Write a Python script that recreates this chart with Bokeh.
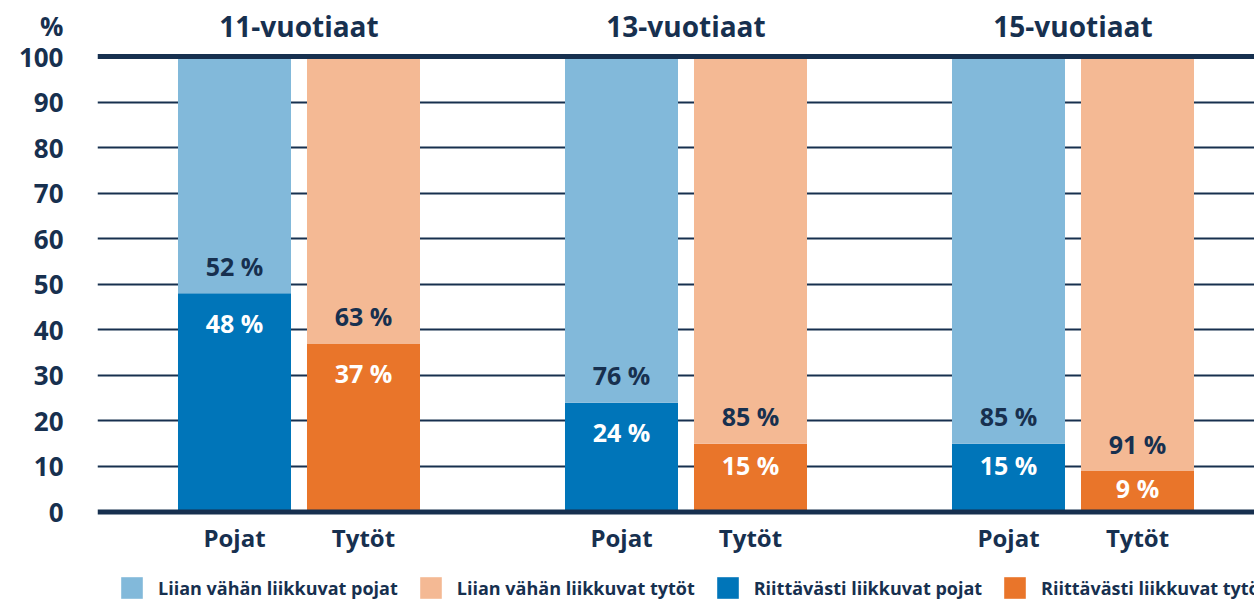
from bokeh.plotting import figure
from bokeh.models import (ColumnDataSource, Range1d, FixedTicker, LinearAxis, Legend,
                          LegendItem, Span, Grid)
from bokeh.core.properties import value
from bokeh.embed import file_html
from bokeh.resources import INLINE

# ---- data ----
groups = ["11-vuotiaat", "13-vuotiaat", "15-vuotiaat"]
sexes = ["Pojat", "Tytöt"]
riittavasti_pojat = [48, 24, 15]
riittavasti_tytot = [37, 15, 9]
liian_vahan_pojat = [52, 76, 85]
liian_vahan_tytot = [63, 85, 91]
series_names = ["Liian vähän liikkuvat pojat", "Liian vähän liikkuvat tytöt",
                "Riittävästi liikkuvat pojat", "Riittävästi liikkuvat tytöt"]
y_ticks = [0, 10, 20, 30, 40, 50, 60, 70, 80, 90, 100]
unit_label = "%"

# ---- style / layout ----
NAVY = "#17304f"
LIGHT_BLUE = "#82b9da"
PEACH = "#f4b994"
BLUE = "#0075b9"
ORANGE = "#e9752a"
FONT = "Open Sans"
GROUP_STEP = 3
BAR_W = 0.876
PX = 4.555                 # px per % unit
Y_TOP = 100 + 56 / PX      # headroom above 100 for the title row
Y_BOT = -(602 - 511.5) / PX
TITLE_Y = 100 + 31 / PX
SEX_Y = -25.5 / PX

W, H = 1254, 602
p = figure(width=W, height=H, output_backend="svg", toolbar_location=None,
           x_range=Range1d(-1.062, -1.062 + 1157 / 129), y_range=Range1d(Y_BOT, Y_TOP),
           min_border_left=97, min_border_right=0, min_border_top=0, min_border_bottom=0,
           x_axis_type=None, y_axis_type=None)
p.outline_line_color = None
p.background_fill_color = "white"
p.border_fill_color = "white"

xs_pojat = [g * GROUP_STEP + 0 for g in range(len(groups))]
xs_tytot = [g * GROUP_STEP + 1 for g in range(len(groups))]

src_p = ColumnDataSource(dict(x=xs_pojat, riitt=riittavasti_pojat, liian=liian_vahan_pojat))
src_t = ColumnDataSource(dict(x=xs_tytot, riitt=riittavasti_tytot, liian=liian_vahan_tytot))

rp = p.vbar_stack(["riitt", "liian"], x="x", width=BAR_W, source=src_p,
                  color=[BLUE, LIGHT_BLUE], line_color=None)
rt = p.vbar_stack(["riitt", "liian"], x="x", width=BAR_W, source=src_t,
                  color=[ORANGE, PEACH], line_color=None)

# grid (10..90) and heavy lines at 0 and 100
p.add_layout(Grid(dimension=1, ticker=FixedTicker(ticks=y_ticks[1:-1]),
                  grid_line_color=NAVY, grid_line_width=2))
p.add_layout(Span(location=y_ticks[-1], dimension="width", line_color=NAVY, line_width=5))
p.add_layout(Span(location=y_ticks[0], dimension="width", line_color=NAVY, line_width=5))

# y axis (unit label as the topmost tick)
yax = LinearAxis(ticker=FixedTicker(ticks=y_ticks + [TITLE_Y]),
                 major_label_overrides={TITLE_Y: unit_label})
yax.axis_line_color = None
yax.major_tick_line_color = None
yax.minor_tick_line_color = None
yax.major_tick_out = 0
yax.major_tick_in = 0
yax.major_label_standoff = 34
yax.major_label_text_font = FONT
yax.major_label_text_font_style = "bold"
yax.major_label_text_font_size = "26px"
yax.major_label_text_color = NAVY
p.add_layout(yax, "left")

# sex labels under the bars
p.text(x=xs_pojat + xs_tytot, y=[SEX_Y] * (len(xs_pojat) + len(xs_tytot)),
       text=[sexes[0]] * len(xs_pojat) + [sexes[1]] * len(xs_tytot),
       text_color=NAVY, text_align="center", text_baseline="middle",
       text_font=value(FONT), text_font_style="bold", text_font_size="24px")

# group titles
p.text(x=[g * GROUP_STEP + 0.5 for g in range(len(groups))], y=[TITLE_Y] * len(groups),
       text=groups, text_color=NAVY, text_align="center", text_baseline="middle",
       text_font=value(FONT), text_font_style="bold", text_font_size="28px")

# value labels
lx, ly, lt, lc = [], [], [], []
for xs, dark, light in ((xs_pojat, riittavasti_pojat, liian_vahan_pojat),
                        (xs_tytot, riittavasti_tytot, liian_vahan_tytot)):
    for x, d, l in zip(xs, dark, light):
        lx.append(x); ly.append(d - max(min(6.5, 0.3 * d + 0.2), 3.8))
        lt.append(f"{d} %"); lc.append("white")
        lx.append(x); ly.append(d + 6); lt.append(f"{l} %"); lc.append(NAVY)
p.text(x=lx, y=ly, text=lt, text_color=lc, text_align="center", text_baseline="middle",
       text_font=value(FONT), text_font_style="bold", text_font_size="25px")

# legend
legend = Legend(items=[LegendItem(label=series_names[0], renderers=[rp[1]]),
                       LegendItem(label=series_names[1], renderers=[rt[1]]),
                       LegendItem(label=series_names[2], renderers=[rp[0]]),
                       LegendItem(label=series_names[3], renderers=[rt[0]])],
                orientation="horizontal", location=(21, 1))
legend.glyph_width = 27
legend.glyph_height = 27
legend.label_standoff = 13
legend.spacing = 19
legend.padding = 0
legend.margin = 0
legend.border_line_color = None
legend.background_fill_alpha = 0
legend.label_text_font = FONT
legend.label_text_font_style = "bold"
legend.label_text_font_size = "18px"
legend.label_text_color = NAVY
p.add_layout(legend, "center")

open("out.html", "w").write(file_html(p, INLINE))
